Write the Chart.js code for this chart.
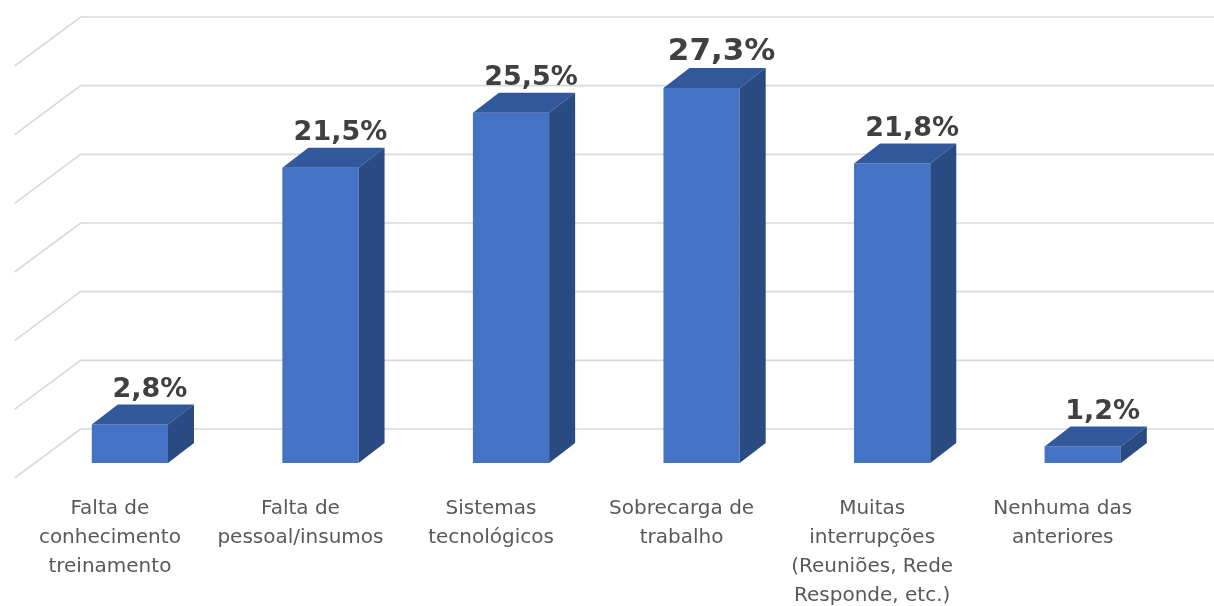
<!DOCTYPE html>
<html>
<head>
<meta charset="utf-8">
<script src="https://cdn.jsdelivr.net/npm/chart.js@4"></script>
<style>
  html, body { margin: 0; padding: 0; background: #ffffff; }
  #wrap { width: 1214px; height: 606px; position: relative; }
</style>
</head>
<body>
<div id="wrap"><canvas id="c" width="1214" height="606"></canvas></div>
<script>
const categories = [
  ["Falta de", "conhecimento", "treinamento"],
  ["Falta de", "pessoal/insumos"],
  ["Sistemas", "tecnológicos"],
  ["Sobrecarga de", "trabalho"],
  ["Muitas", "interrupções", "(Reuniões, Rede", "Responde, etc.)"],
  ["Nenhuma das", "anteriores"]
];
const values = [2.8, 21.5, 25.5, 27.3, 21.8, 1.2];
const valueLabels = ["2,8%", "21,5%", "25,5%", "27,3%", "21,8%", "1,2%"];
const gridValues = [0, 5, 10, 15, 20, 25, 30];

// projection offsets (style)
const BAR_DX = 26, BAR_DY = 20;      // bar depth
const WALL_DX = 46, WALL_DY = 34;    // bar front -> back wall
const FLOOR_DX = -20, FLOOR_DY = 15; // bar front -> floor front edge

const threeD = {
  id: 'threeD',
  beforeDatasetsDraw(chart) {
    const ctx = chart.ctx;
    const y = chart.scales.y;
    const left = chart.chartArea.left;
    ctx.save();
    ctx.strokeStyle = '#d9d9d9';
    ctx.lineWidth = 1.6;
    gridValues.forEach(v => {
      const py = y.getPixelForValue(v);
      const bx = left + WALL_DX, by = py - WALL_DY;
      const fx = left + FLOOR_DX, fy = py + FLOOR_DY;
      ctx.beginPath();
      ctx.moveTo(fx, fy);
      ctx.lineTo(bx, by);
      ctx.lineTo(chart.width, by);
      ctx.stroke();
    });
    ctx.restore();
  },
  afterDatasetsDraw(chart) {
    const ctx = chart.ctx;
    const meta = chart.getDatasetMeta(0);
    ctx.save();
    meta.data.forEach((bar, i) => {
      const p = bar.getProps(['x', 'y', 'base', 'width'], true);
      const l = p.x - p.width / 2, r = p.x + p.width / 2;
      const t = p.y, b = p.base;
      // top face
      ctx.fillStyle = '#31589b';
      ctx.beginPath();
      ctx.moveTo(l, t);
      ctx.lineTo(l + BAR_DX, t - BAR_DY);
      ctx.lineTo(r + BAR_DX, t - BAR_DY);
      ctx.lineTo(r, t);
      ctx.closePath();
      ctx.fill();
      // side face
      ctx.fillStyle = '#2a4a82';
      ctx.beginPath();
      ctx.moveTo(r, t);
      ctx.lineTo(r + BAR_DX, t - BAR_DY);
      ctx.lineTo(r + BAR_DX, b - BAR_DY);
      ctx.lineTo(r, b);
      ctx.closePath();
      ctx.fill();
      // value label
      const big = values[i] === Math.max(...values);
      ctx.fillStyle = '#404040';
      ctx.font = 'bold ' + (big ? 31 : 27) + 'px "DejaVu Sans"';
      ctx.textAlign = 'center';
      ctx.textBaseline = 'alphabetic';
      ctx.fillText(valueLabels[i], p.x + 20, t - BAR_DY - 8);
    });
    ctx.restore();
  }
};

new Chart(document.getElementById('c'), {
  type: 'bar',
  data: {
    labels: categories,
    datasets: [{
      data: values,
      backgroundColor: '#4472c4',
      borderWidth: 0,
      barPercentage: 0.4,
      categoryPercentage: 1.0
    }]
  },
  options: {
    responsive: false,
    animation: false,
    layout: { padding: { left: 34.6, right: 36, top: 51, bottom: 0 } },
    plugins: { legend: { display: false }, tooltip: { enabled: false } },
    scales: {
      x: {
        grid: { display: false, drawTicks: false },
        border: { display: false },
        ticks: {
          color: '#595959',
          font: { family: '"DejaVu Sans"', size: 20, lineHeight: 1.45 },
          padding: 31,
          labelOffset: FLOOR_DX,
          maxRotation: 0,
          autoSkip: false
        },
        afterFit(scale) { scale.height = 143; }
      },
      y: {
        display: false,
        min: 0,
        max: 30
      }
    }
  },
  plugins: [threeD]
});
</script>
</body>
</html>
